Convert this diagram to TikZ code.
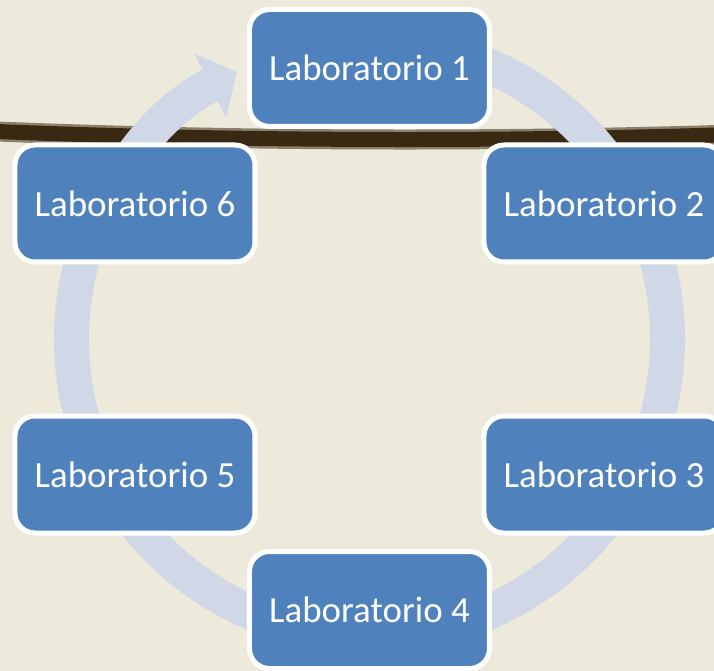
\documentclass[tikz,border=0pt]{standalone}
\usepackage{fontspec}
\setmainfont{Carlito}
\usepackage{xcolor}
\definecolor{canvas}{HTML}{EEEADB}
\definecolor{stick}{HTML}{3A2912}
\definecolor{ringblue}{HTML}{D0D8E8}
\definecolor{labfill}{HTML}{4F81BD}
\usepackage{tikz}
\usetikzlibrary{arrows.meta}

\begin{document}
\begin{tikzpicture}[
  lab/.style={
    rectangle, rounded corners=0.4cm, draw=white, fill=labfill,
    line width=0.1cm, minimum width=4.8cm, minimum height=2.34cm,
    inner sep=0pt, text=white, font=\fontsize{21}{25}\selectfont
  },
  ring/.style={
    draw=ringblue, line width=0.7cm,
    -{Triangle[length=0.6cm, width=1.4cm]}
  }
]
  % canvas and the dark stick behind the cycle
  \fill[canvas] (-7.39,-6.64) rectangle (6.89,6.78);
  \useasboundingbox (-7.39,-6.64) rectangle (6.89,6.78);
  \draw[stick!55!canvas, line width=0.4cm]
    (-7.45,4.15) .. controls (-2.5,3.95) and (2.5,3.95) .. (6.95,4.08);
  \draw[stick, line width=0.3cm]
    (-7.45,4.15) .. controls (-2.5,3.95) and (2.5,3.95) .. (6.95,4.08);

  % cycle ring
  \coordinate (c) at (0,0);
  \draw[ring] (c) ++(80:5.96) arc[start angle=80, end angle=-243.6, radius=5.96];

  \node[lab] (lab1) at (0,5.42)      {Laboratorio 1};
  \node[lab] (lab2) at (4.69,2.71)   {Laboratorio 2};
  \node[lab] (lab3) at (4.69,-2.71)  {Laboratorio 3};
  \node[lab] (lab4) at (0,-5.42)     {Laboratorio 4};
  \node[lab] (lab5) at (-4.69,-2.71) {Laboratorio 5};
  \node[lab] (lab6) at (-4.69,2.71)  {Laboratorio 6};
\end{tikzpicture}
\end{document}
